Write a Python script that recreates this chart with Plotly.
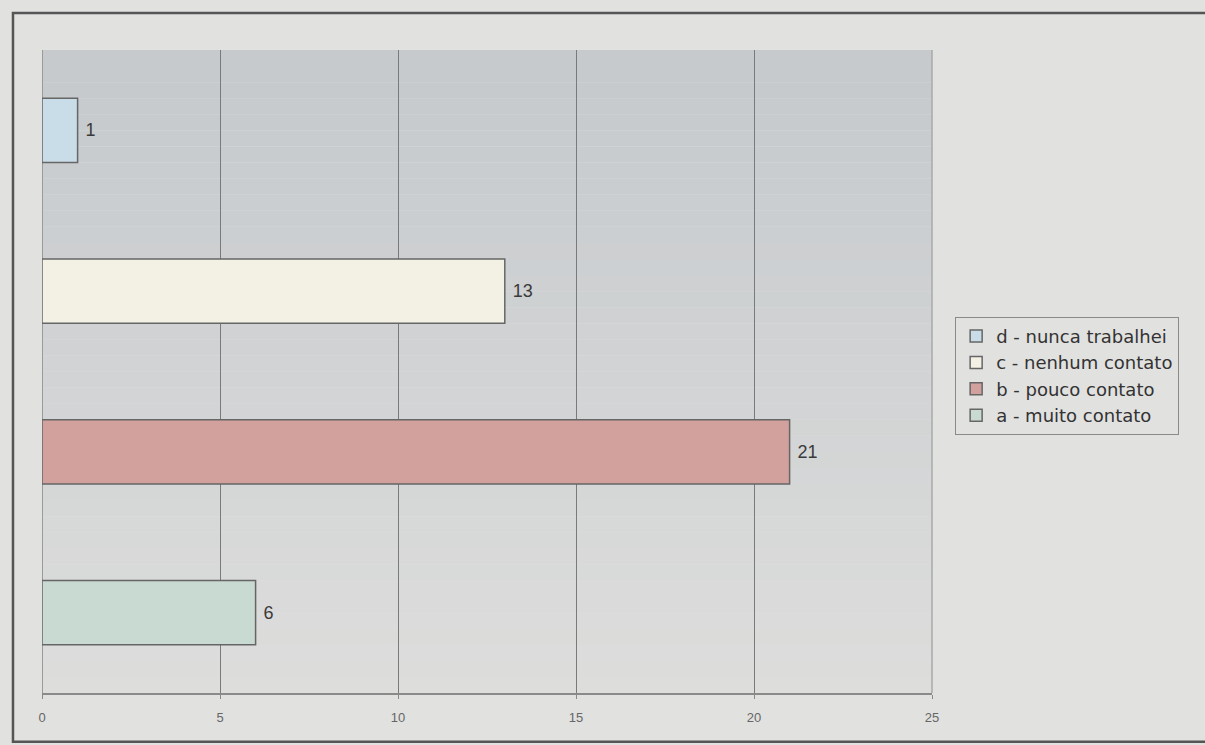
import plotly.graph_objects as go

# Survey answers (legend order top to bottom)
categories = ["d - nunca trabalhei", "c - nenhum contato", "b - pouco contato", "a - muito contato"]
counts = [1, 13, 21, 6]
bar_colors = ["#c9dde9", "#f3f1e4", "#d3a19d", "#c8dad1"]
x_ticks = [0, 5, 10, 15, 20, 25]

fig = go.Figure()
for name, value, color in zip(categories, counts, bar_colors):
    fig.add_trace(go.Bar(
        x=[value], y=[name], orientation="h", name=name,
        marker=dict(color=color, line=dict(color="#666666", width=1.5)),
        text=[f" {value}"], textposition="outside", cliponaxis=False,
        textfont=dict(family="Liberation Sans, Arial, sans-serif", size=18, color="#3a3a3a"),
        showlegend=True,
    ))

# Soft vertical gradient behind the bars (darker at the top)
n_bands = 40
top_rgb = (198, 202, 205)
bot_rgb = (221, 221, 220)
shapes = []
for i in range(n_bands):
    t = i / (n_bands - 1)
    r = int(top_rgb[0] + (bot_rgb[0] - top_rgb[0]) * t)
    g = int(top_rgb[1] + (bot_rgb[1] - top_rgb[1]) * t)
    b = int(top_rgb[2] + (bot_rgb[2] - top_rgb[2]) * t)
    y1 = 1 - i / n_bands
    y0 = 1 - (i + 1) / n_bands
    shapes.append(dict(type="rect", xref="paper", yref="paper", x0=0, x1=1, y0=y0, y1=y1,
                       fillcolor=f"rgb({r},{g},{b})", line=dict(width=0), layer="below"))

# Light right edge of the plotting area
shapes.append(dict(type="line", xref="paper", yref="paper", x0=1, x1=1, y0=0, y1=1,
                   line=dict(color="#a8a8a8", width=1.5), layer="below"))

# Outer chart frame
shapes.append(dict(type="rect", xref="paper", yref="paper",
                   x0=-0.0326, x1=1.32, y0=-0.076, y1=1.0575,
                   line=dict(color="#555555", width=2.5), fillcolor="rgba(0,0,0,0)", layer="above"))

fig.update_layout(
    width=1205, height=745,
    margin=dict(l=42, r=273, t=50, b=52),
    paper_bgcolor="#e1e1e0",
    plot_bgcolor="rgba(0,0,0,0)",
    barmode="overlay",
    bargap=0.6,
    shapes=shapes,
    font=dict(family="Liberation Sans, Arial, sans-serif", color="#333333"),
    legend=dict(
        x=1.026, y=0.585, xanchor="left", yanchor="top",
        bgcolor="#e1e1e0", bordercolor="#8a8a8a", borderwidth=1,
        font=dict(family="DejaVu Sans, sans-serif", size=18, color="#333333"),
        itemwidth=30, tracegroupgap=4,
    ),
    showlegend=True,
)

fig.update_xaxes(
    range=[0, 25], tickvals=x_ticks, ticktext=[str(v) for v in x_ticks],
    showgrid=True, gridcolor="#7a7a7a", gridwidth=1.3,
    zeroline=True, zerolinecolor="#9a9a9a", zerolinewidth=1,
    showline=True, linecolor="#8a8a8a", linewidth=1.5,
    ticks="outside", ticklen=4, tickcolor="#8a8a8a",
    tickfont=dict(family="Liberation Sans Narrow, Liberation Sans, sans-serif", size=13, color="#666666"),
    ticklabelstandoff=8,
)
fig.update_yaxes(
    categoryorder="array", categoryarray=list(reversed(categories)),
    showticklabels=False, showgrid=False, zeroline=False, showline=False,
)

fig.write_html("out.html")
